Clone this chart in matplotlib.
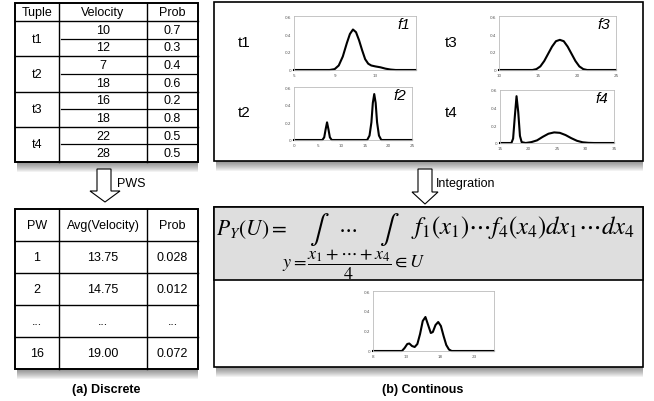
import numpy as np
import matplotlib
matplotlib.use("Agg")
import matplotlib.pyplot as plt
from matplotlib.patches import Rectangle, Polygon

W, H = 654, 402

# top table (discrete tuples)
tuples = ["t1", "t2", "t3", "t4"]
velocity = [[10, 12], [7, 18], [16, 18], [22, 28]]
prob = [[0.7, 0.3], [0.4, 0.6], [0.2, 0.8], [0.5, 0.5]]

# possible worlds table
pw = ["1", "2", "...", "16"]
avg_vel = ["13.75", "14.75", "...", "19.00"]
pw_prob = ["0.028", "0.012", "...", "0.072"]

# density curves
f1_x = [5, 8.5, 9, 9.4, 9.8, 10.2, 10.5, 10.8, 11.1, 11.4, 11.7, 12.0, 12.3, 12.6, 13.0, 13.5, 14.0, 14.5, 15, 17]
f1_y = [0, 0, 0.01, 0.05, 0.15, 0.3, 0.4, 0.45, 0.42, 0.33, 0.22, 0.12, 0.07, 0.05, 0.04, 0.03, 0.015, 0.005, 0, 0]
f2_x = [0, 6.0, 6.4, 6.7, 7.0, 7.3, 7.6, 8.0, 15.5, 16.0, 16.4, 16.7, 17.0, 17.3, 17.6, 18.0, 18.5, 25]
f2_y = [0, 0, 0.03, 0.12, 0.2, 0.12, 0.03, 0, 0, 0.05, 0.2, 0.42, 0.52, 0.42, 0.2, 0.05, 0, 0]
f3_x = [10, 14.3, 14.8, 15.3, 15.8, 16.3, 16.8, 17.3, 17.8, 18.3, 18.8, 19.3, 19.8, 20.3, 20.8, 21.3, 25]
f3_y = [0, 0, 0.01, 0.04, 0.1, 0.18, 0.26, 0.32, 0.335, 0.32, 0.26, 0.18, 0.1, 0.04, 0.01, 0, 0]
f4_x = [15, 17.0, 17.3, 17.6, 17.9, 18.2, 18.5, 18.8, 19.5, 20.5, 21.5, 22.5, 23.5, 24.5, 25.5, 26.5, 27.5, 28.5, 29.5, 30.5, 31.5, 35]
f4_y = [0, 0, 0.05, 0.3, 0.53, 0.35, 0.08, 0.01, 0, 0.01, 0.03, 0.07, 0.105, 0.12, 0.115, 0.09, 0.055, 0.025, 0.008, 0.002, 0, 0]
avg_x = [8, 12.3, 12.7, 13.1, 13.4, 13.8, 14.2, 14.6, 15.0, 15.4, 15.8, 16.2, 16.6, 16.9, 17.3, 17.7, 18.1, 18.5, 18.9, 19.3, 19.7, 26]
avg_y = [0, 0, 0.03, 0.07, 0.075, 0.05, 0.04, 0.07, 0.17, 0.3, 0.34, 0.26, 0.18, 0.19, 0.26, 0.29, 0.25, 0.15, 0.06, 0.015, 0, 0]

fig = plt.figure(figsize=(W / 100, H / 100), dpi=100)
ax = fig.add_axes([0, 0, 1, 1])
ax.set_xlim(0, W)
ax.set_ylim(H, 0)
ax.axis("off")

plt.rcParams["mathtext.fontset"] = "stix"
sans = "Liberation Sans"


def shadow(x0, x1, y):
    for k in range(10):
        ax.add_patch(Rectangle((x0 + 2, y), x1 - x0 - 2, k + 1, fc="k", ec="none",
                               alpha=0.05, zorder=1))


def box(x0, y0, x1, y1, fc="white", lw=1.2):
    ax.add_patch(Rectangle((x0, y0), x1 - x0, y1 - y0, fc=fc, ec="k", lw=lw, zorder=2))


def hline(x0, x1, y, lw=1.0):
    ax.plot([x0, x1], [y, y], color="k", lw=lw, zorder=3)


def vline(x, y0, y1, lw=1.0):
    ax.plot([x, x], [y0, y1], color="k", lw=lw, zorder=3)


def txt(x, y, s, size=9, **kw):
    ax.text(x, y, s, ha="center", va="center", fontsize=size, family=sans, zorder=4, **kw)


def arrow(xs0, xs1, ytop, yhead, xh0, xh1, ytip):
    pts = [(xs0, ytop), (xs1, ytop), (xs1, yhead), (xh1, yhead), ((xh0 + xh1) / 2, ytip),
           (xh0, yhead), (xs0, yhead)]
    ax.add_patch(Polygon(pts, closed=True, fc="white", ec="k", lw=0.8, zorder=3))


# ---- top-left table
c0, c1, c2, c3 = 15, 59, 147, 198
top, hdr = 4, 22
shadow(c0, c3, 163)
box(c0, top, c3, 163, lw=1.4)
vline(c1, top, 163)
vline(c2, top, 163)
hline(c0, c3, hdr)
txt((c0 + c1) / 2, 13, "Tuple")
txt((c1 + c2) / 2, 13, "Velocity")
txt((c2 + c3) / 2, 13, "Prob")
bh = (163 - hdr) / 4
for i, t in enumerate(tuples):
    yb = hdr + i * bh
    if i > 0:
        hline(c0, c3, yb)
    hline(c1 + 2, c3 - 2, yb + bh / 2, lw=0.9)
    txt((c0 + c1) / 2, yb + bh / 2, t)
    for j in range(2):
        yc = yb + bh / 4 + j * bh / 2
        txt((c1 + c2) / 2, yc, str(velocity[i][j]))
        txt((c2 + c3) / 2, yc, str(prob[i][j]))

arrow(97, 111, 170, 192, 90, 120, 203)
ax.text(117, 184, "PWS", ha="left", va="center", fontsize=9, family=sans)

# ---- bottom-left table
top2, hdr2, bot2 = 210, 242, 370
shadow(c0, c3, bot2)
box(c0, top2, c3, bot2, lw=1.4)
vline(c1, top2, bot2)
vline(c2, top2, bot2)
hline(c0, c3, hdr2)
txt((c0 + c1) / 2, (top2 + hdr2) / 2, "PW")
txt((c1 + c2) / 2, (top2 + hdr2) / 2, "Avg(Velocity)")
txt((c2 + c3) / 2, (top2 + hdr2) / 2, "Prob")
rh = (bot2 - hdr2) / 4
for i in range(4):
    yb = hdr2 + i * rh
    if i > 0:
        hline(c0, c3, yb)
    txt((c0 + c1) / 2, yb + rh / 2, pw[i])
    txt((c1 + c2) / 2, yb + rh / 2, avg_vel[i])
    txt((c2 + c3) / 2, yb + rh / 2, pw_prob[i])
txt(106, 390, "(a) Discrete", weight="bold")

# ---- top-right panel
shadow(214, 643, 162)
box(214, 3, 643, 162)
for lab, x, y in [("t1", 244, 43), ("t2", 244, 113), ("t3", 451, 43), ("t4", 451, 113)]:
    txt(x, y, lab, size=11)

arrow(418, 432, 170, 193, 412, 438, 205)
ax.text(436, 184, "Integration", ha="left", va="center", fontsize=9, family=sans)

# ---- bottom-right panel
shadow(214, 643, 368)
box(214, 208, 643, 368)
ax.add_patch(Rectangle((214, 208), 429, 73, fc="#dedede", ec="k", lw=1.2, zorder=2))
ax.text(216, 235, r"$P_Y(U) =$", ha="left", va="baseline", fontsize=15.5, zorder=4)
ax.text(309, 230, r"$\int$", ha="left", va="center", fontsize=21, zorder=4)
ax.text(338, 228, r"$\cdots$", ha="left", va="center", fontsize=15, zorder=4)
ax.text(379, 230, r"$\int$", ha="left", va="center", fontsize=21, zorder=4)
ax.text(411, 234, r"$f_1(x_1)\cdots f_4(x_4)dx_1\cdots dx_4$", ha="left", va="baseline",
        fontsize=17.8, zorder=4)
ax.text(282, 265, r"$y = \dfrac{x_1 + \cdots + x_4}{4} \in U$", ha="left", va="center",
        fontsize=13, zorder=4)
txt(423, 390, "(b) Continous", weight="bold")


def mini(x0, y0, x1, y1, xs, ys, xlim, xt, label=None):
    a = fig.add_axes([x0 / W, 1 - y1 / H, (x1 - x0) / W, (y1 - y0) / H])
    a.plot(xs, ys, color="k", lw=1.5, clip_on=False)
    a.set_xlim(*xlim)
    a.set_ylim(0, 0.6)
    a.set_xticks(xt)
    a.set_xticklabels([str(v) for v in xt])
    a.set_yticks([0, 0.2, 0.4, 0.6])
    a.set_yticklabels(["0", "0.2", "0.4", "0.6"])
    a.tick_params(length=0, labelsize=3, colors="#555555", pad=2)
    for s in a.spines.values():
        s.set_color("#bbbbbb")
        s.set_linewidth(0.6)
    if label:
        a.text(0.95, 0.85, label, transform=a.transAxes, ha="right", va="center",
               fontsize=11, style="italic", family=sans)
    return a


mini(294, 17, 416, 71, f1_x, f1_y, (5, 17), [5, 9, 13], "f1")
mini(294, 88, 412, 141, f2_x, f2_y, (0, 25), [0, 5, 10, 15, 20, 25], "f2")
mini(499, 17, 616, 71, f3_x, f3_y, (10, 25), [10, 15, 20, 25], "f3")
mini(500, 91, 614, 144, f4_x, f4_y, (15, 35), [15, 20, 25, 30, 35], "f4")
mini(373, 292, 494, 352, avg_x, avg_y, (8, 26), [8, 13, 18, 23])

fig.savefig("out.png", dpi=100)
